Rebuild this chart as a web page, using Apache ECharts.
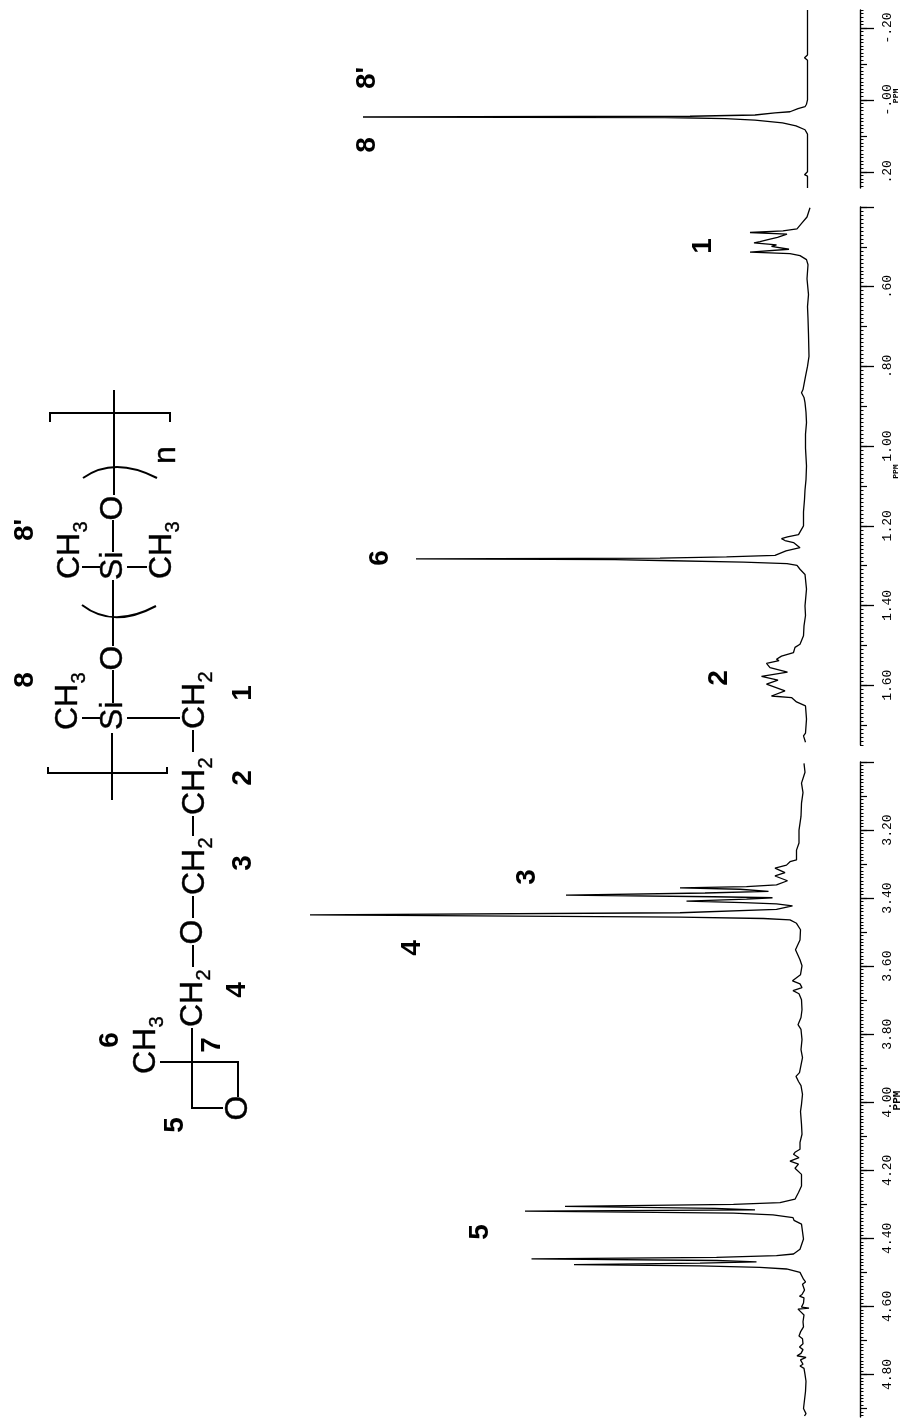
<!DOCTYPE html>
<html>
<head>
<meta charset="utf-8">
<style>html,body{margin:0;padding:0;background:#fff}#c{width:900px;height:1420px}</style>
<script src="https://cdn.jsdelivr.net/npm/echarts@6/dist/echarts.min.js"></script>
</head>
<body>
<div id="c"></div>
<script>
// Spectrum traces: chemical shift (ppm) and relative intensity
const ppmA = [-.25,-.2,-.167,-.125,-.117,-.11,-.08,-.05,-.02,0,.012,.019,.024,.028,.033,.036,.042,.0455,.0475,.049,.052,.056,.064,.072,.083,.095,.12,.16,.2,.205,.208,.212,.245];
const intA = [1.5,1.5,1.5,1.5,2.1,1.5,1.5,1.5,1.5,1.5,1.7,2.0,3.4,3.0,5.0,8,12,25,90.4,30,18,12,6.5,3.8,2.0,1.5,1.5,1.5,1.5,1.5,2.1,1.5,1.5];

const ppmB = [.402,.425,.44,.455,.46,.464,.468,.471,.476,.482,.487,.49,.495,.499,.506,.513,.517,.522,.532,.545,.58,.62,.65,.68,.682,.72,.775,.8,.825,.858,.866,.878,.891,.915,.941,.97,1.005,1.05,1.084,1.11,1.134,1.165,1.2,1.222,1.228,1.232,1.237,1.242,1.255,1.263,1.274,1.278,1.281,1.283,1.285,1.287,1.291,1.295,1.299,1.309,1.314,1.322,1.359,1.401,1.425,1.451,1.476,1.497,1.505,1.518,1.527,1.535,1.538,1.545,1.556,1.567,1.578,1.587,1.597,1.614,1.627,1.631,1.642,1.652,1.685,1.72,1.727,1.743];
const intB = [1.0,1.6,2.6,3.6,6.4,13,5.6,5.7,7.5,9.4,11,12.2,7.7,8.7,5.2,13,5,3,1.7,1.4,1.6,1.3,1.5,1.4,1.8,1.3,1.2,1.5,1.9,2.4,2.7,2.2,2.0,1.8,1.7,1.9,1.9,1.7,1.8,2.0,2.1,2.3,2.3,3.3,5.5,6.7,6.0,4.3,3,5.8,8,17.7,31,79.8,40,31,14.3,5.6,3.6,3,3.2,2,1.7,2,1.9,2.2,2.3,3,4,4.3,6.7,7.7,7.2,9.7,9,5.5,10.7,7.4,9.7,6,8.7,4.7,3.7,1.9,1.7,1.9,2.3,1.9];

const ppmC = [3.004,3.03,3.062,3.09,3.121,3.16,3.2,3.238,3.259,3.288,3.293,3.303,3.312,3.325,3.335,3.349,3.361,3.366,3.37,3.374,3.38,3.385,3.391,3.396,3.399,3.403,3.409,3.413,3.417,3.423,3.433,3.443,3.449,3.456,3.46,3.464,3.474,3.493,3.523,3.552,3.581,3.599,3.625,3.643,3.652,3.663,3.672,3.681,3.699,3.728,3.751,3.772,3.786,3.816,3.845,3.869,3.898,3.913,3.924,3.939,3.951,3.977,4.006,4.027,4.065,4.094,4.118,4.138,4.147,4.153,4.163,4.173,4.182,4.194,4.212,4.246,4.265,4.285,4.295,4.3,4.306,4.312,4.316,4.32,4.326,4.331,4.339,4.347,4.358,4.402,4.432,4.446,4.451,4.456,4.46,4.465,4.469,4.473,4.477,4.481,4.485,4.49,4.5,4.52,4.528,4.535,4.552,4.565,4.57,4.575,4.59,4.602,4.605,4.608,4.625,4.645,4.66,4.675,4.687,4.695,4.71,4.719,4.727,4.738,4.745,4.75,4.757,4.77,4.775,4.782,4.80,4.82,4.85,4.875,4.88,4.90,4.915,4.922];
const intC = [2.2,2.0,2.7,2.4,2.7,2.8,3.2,3.2,3.7,3.7,5,5.7,8,6,8,5.5,7.7,13.7,27,15,9.3,22,49.8,20.3,8.5,13.7,25.7,14.3,7.7,4.5,7.7,27,101,27,10.3,5,3.7,2.9,3,3.9,3.0,2.6,2.9,4.5,3.0,2.6,4.4,3.2,2.7,2.6,2.8,3.4,2.8,2.6,2.8,2.5,2.9,3.1,3.8,3.3,2.8,2.5,2.7,2.9,2.7,2.6,3.0,3.0,4.0,4.3,3.2,5,3.3,4,2.7,2.7,3.3,4,7,16.3,50,20,12,58,16.3,8.4,4.4,4.2,2.7,2.3,3,4.3,7.7,19.7,56.7,19.7,11.7,23,48.2,23,11,5.7,3,2.3,1.9,2.5,2.1,2.6,3.1,2.2,2.3,2.7,1.2,3.4,2.2,2.4,2.3,2.9,3.2,2.5,2.4,3.1,2.4,2.8,3.6,1.8,2.9,2.4,3.0,2.2,2.0,1.8,1.9,2.1,1.7,2.3,1.8,2.1];

// Axis ticks and labels
const majorA = [-.2,0,.2];
const labelsA = ['-.20','-.00','.20'];
const rangeA = [-.25,.245];
const majorB = [.4,.6,.8,1,1.2,1.4,1.6];
const labelsB = ['','.60','.80','1.00','1.20','1.40','1.60'];
const rangeB = [.4,1.75];
const majorC = [3,3.2,3.4,3.6,3.8,4,4.2,4.4,4.6,4.8];
const labelsC = ['','3.20','3.40','3.60','3.80','4.00','4.20','4.40','4.60','4.80'];
const rangeC = [3,4.925];
const unitAt = [[-.011],[1.064],[3.995]];
const unitSize = [8,8,11];

// Annotations
const peakNames = ['8',"8'",'1','6','2','3','4','5'];
const groupNames = ['8',"8'",'1','2','3','4','5','6','7'];

function steps(lo, hi, step){
  const out = [];
  const first = Math.ceil(lo/step - 1e-6);
  const last = Math.floor(hi/step + 1e-6);
  for(let k=first;k<=last;k++) out.push(+(k*step).toFixed(3));
  return out;
}

const INK = '#000';
const grids = [], xAxes = [], yAxes = [], series = [];
function panel(top, height, range, major, labels, unit, uSize, ppm, ints){
  const g = grids.length;
  grids.push({left:300, width:515, top, height, outerBoundsMode:'none', containLabel:false});
  xAxes.push({gridIndex:g, type:'value', min:0, max:103, inverse:true, show:false});
  const base = {gridIndex:g, type:'value', position:'right', offset:45, inverse:true, min:range[0], max:range[1], splitLine:{show:false}};
  const hiddenLine = {show:false, onZero:false};
  const first = yAxes.length;
  yAxes.push(Object.assign({}, base, {
    axisLine:{show:true, onZero:false, lineStyle:{color:INK, width:1.4}},
    axisTick:{show:true, length:14, customValues:major, lineStyle:{color:INK, width:1.3}},
    axisLabel:{show:true, rotate:90, margin:21, customValues:major, color:INK, fontFamily:'Liberation Mono', fontSize:13,
      formatter:v=>labels[major.indexOf(v)]}
  }));
  yAxes.push(Object.assign({}, base, {
    axisLine:hiddenLine,
    axisTick:{show:true, length:7, customValues:steps(range[0],range[1],.1), lineStyle:{color:INK, width:1.2}},
    axisLabel:{show:false}
  }));
  yAxes.push(Object.assign({}, base, {
    axisLine:hiddenLine,
    axisTick:{show:true, length:3.5, customValues:steps(range[0],range[1],.01), lineStyle:{color:INK, width:1}},
    axisLabel:{show:false}
  }));
  yAxes.push(Object.assign({}, base, {
    axisLine:hiddenLine,
    axisTick:{show:false},
    axisLabel:{show:true, rotate:90, margin:32, customValues:unit, color:INK, fontFamily:'Liberation Mono', fontSize:uSize, fontWeight:'bold',
      formatter:()=>'PPM'}
  }));
  series.push({
    type:'line', xAxisIndex:g, yAxisIndex:first, showSymbol:false, symbol:'none', clip:false, silent:true,
    lineStyle:{color:INK, width:1.3},
    data:ppm.map((p,i)=>[ints[i],p])
  });
}
panel(10,178,rangeA,majorA,labelsA,unitAt[0],unitSize[0],ppmA,intA);
panel(207,538,rangeB,majorB,labelsB,unitAt[1],unitSize[1],ppmB,intB);
panel(762,655,rangeC,majorC,labelsC,unitAt[2],unitSize[2],ppmC,intC);

// Overlay drawing helpers: structure and peak labels
const HALF = Math.PI/2, g = [];
function txt(s,x,y,size,opts){
  opts = opts||{};
  g.push({type:'text', x, y, rotation:HALF, silent:true,
    style:{text:s, x:0, y:0, align:opts.align||'center', verticalAlign:'middle',
      font:(opts.bold?'bold ':'')+size+'px "Liberation Sans"', fill:INK,
      stroke:opts.bold?null:INK, lineWidth:opts.bold?0:0.4}});
}
function ln(pts){
  g.push({type:'polyline', silent:true, shape:{points:pts}, style:{stroke:INK, lineWidth:2, fill:null}});
}
function arc(x1,y1,cx,cy,x2,y2){
  g.push({type:'bezierCurve', silent:true, shape:{x1,y1,x2,y2,cpx1:cx,cpy1:cy}, style:{stroke:INK, lineWidth:2, fill:null}});
}
function group(x,yC,word,sub){ // "CH2"-like text reading upward, first letter centred at yC
  txt(word,x,yC+12,32,{align:'left'});
  txt(sub,x+11,yC-40,20,{});
}

// spectrum peak labels
const peakAt = [[367,145],[367,78],[703,246],[380,558],[719,678],[527,877],[412,948],[480,1232]];
peakNames.forEach((s,i)=>txt(s,peakAt[i][0],peakAt[i][1],28,{bold:true}));
// structure position labels
const groupAt = [[25,680],[25,530],[243,693],[243,778],[243,863],[237,990],[175,1125],[110,1040],[212,1045]];
groupNames.forEach((s,i)=>txt(s,groupAt[i][0],groupAt[i][1],28,{bold:true}));

// top bracket and repeat unit
ln([[50,422],[50,413],[170,413],[170,422]]);
ln([[114,390],[114,495]]);
arc(83,478,114,456,157,478);
txt('n',166,455,32);
txt('O',113,508,32);
ln([[113,520],[113,552]]);
txt('Si',113,580,32,{align:'left'});
ln([[82,567],[100,567]]);
ln([[127,567],[147,567]]);
group(70,567,'CH','3');
group(162,567,'CH','3');
ln([[113,580],[113,646]]);
arc(82,605,113,629,156,606);
txt('O',113,658,32);
ln([[113,670],[113,703]]);
txt('Si',113,730,32,{align:'left'});
ln([[82,718],[100,718]]);
group(68,718,'CH','3');
ln([[127,718],[180,718]]);
group(195,717,'CH','2');
ln([[112,733],[112,800]]);
ln([[48,767],[48,773],[167,773],[167,767]]);
ln([[193,730],[193,752]]);
group(195,803,'CH','2');
ln([[193,816],[193,836]]);
group(195,883,'CH','2');
ln([[193,896],[193,918]]);
txt('O',193,932,32);
ln([[193,945],[193,967]]);
group(193,1015,'CH','2');
ln([[192,1028],[192,1108],[223,1108]]);
ln([[160,1062],[238,1062],[238,1097]]);
group(146,1062,'CH','3');
txt('O',238,1108,32);

echarts.init(document.getElementById('c')).setOption({
  animation:false,
  backgroundColor:'#fff',
  grid:grids, xAxis:xAxes, yAxis:yAxes, series, graphic:g
});
</script>
</body>
</html>
